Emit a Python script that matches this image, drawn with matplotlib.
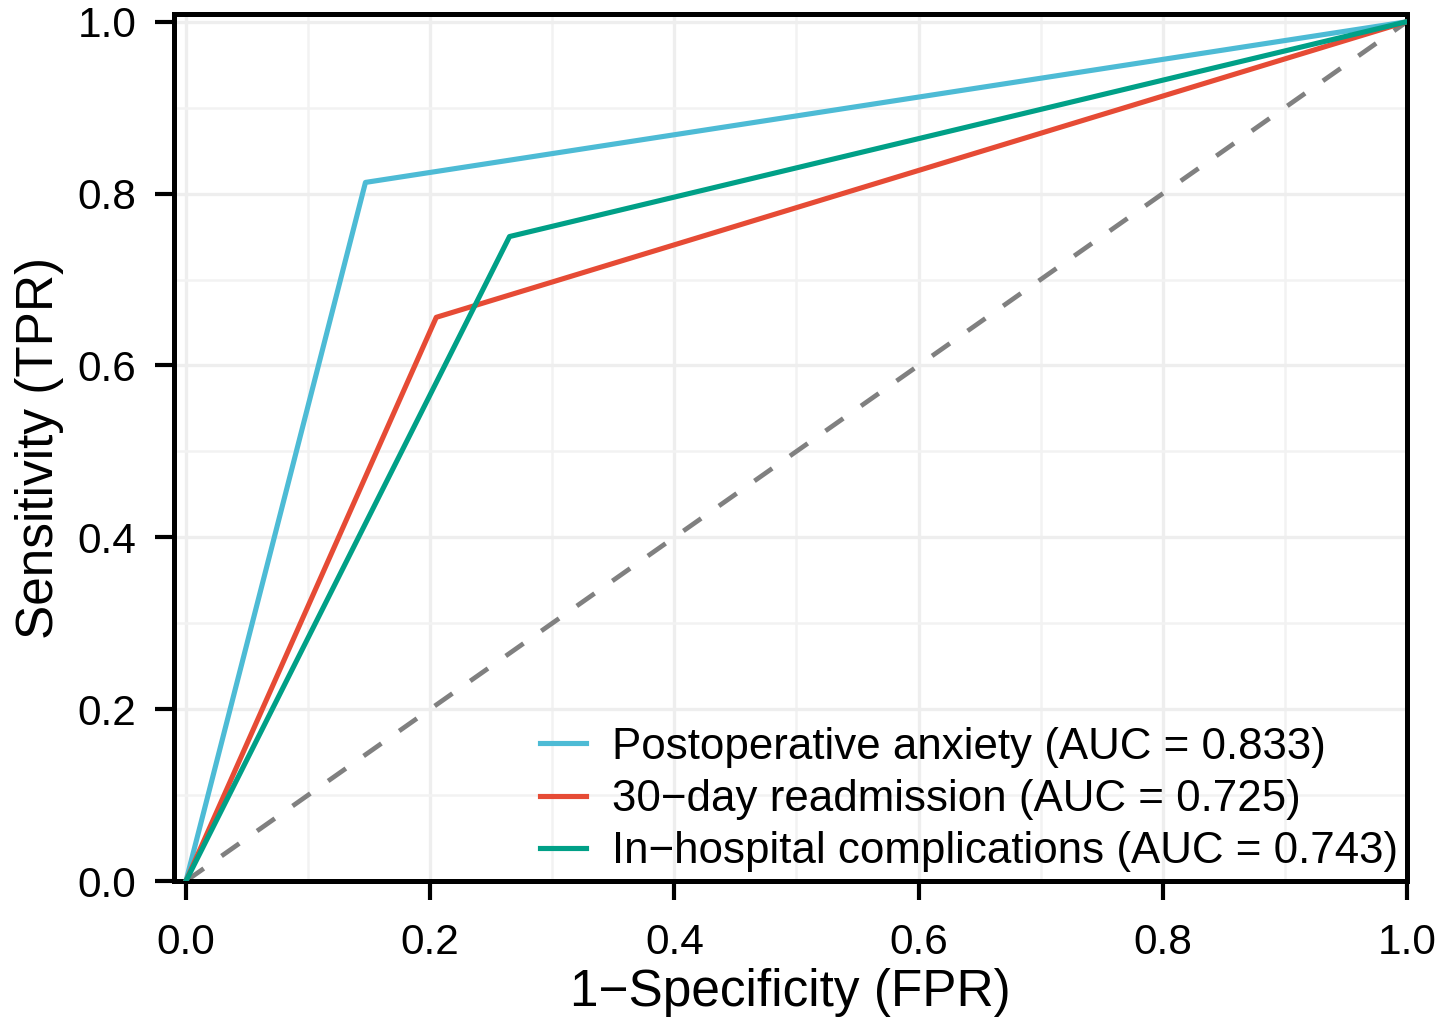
import matplotlib
matplotlib.use('Agg')
import matplotlib.pyplot as plt
from matplotlib.ticker import MultipleLocator, FormatStrFormatter

plt.rcParams['font.family'] = ['Liberation Sans', 'DejaVu Sans']

# ROC points (FPR, TPR)
labels = ['Postoperative anxiety (AUC = 0.833)',
          '30\u2212day readmission (AUC = 0.725)',
          'In\u2212hospital complications (AUC = 0.743)']
fpr_anxiety = [0.0, 0.147, 1.0]
tpr_anxiety = [0.0, 0.813, 1.0]
fpr_readmit = [0.0, 0.205, 1.0]
tpr_readmit = [0.0, 0.656, 1.0]
fpr_complic = [0.0, 0.265, 1.0]
tpr_complic = [0.0, 0.750, 1.0]
colors = ['#4DBBD5', '#E64B35', '#00A087']

fig = plt.figure(figsize=(14.43, 10.36), dpi=100)
ax = fig.add_axes([0.1206, 0.1496, 0.975 - 0.1206, 0.9865 - 0.1496])

# chance line
ax.plot([0, 1], [0, 1], color='#808080', lw=3.4, dashes=(4.6, 4.6), zorder=2)
series = [(fpr_anxiety, tpr_anxiety), (fpr_readmit, tpr_readmit), (fpr_complic, tpr_complic)]
for (x, y), c, lab in zip(series, colors, labels):
    ax.plot(x, y, color=c, lw=3.7, label=lab, zorder=3)

ax.set_xlim(-0.0098, 1.0)
ax.set_ylim(0.0, 1.009)
ax.xaxis.set_major_locator(MultipleLocator(0.2))
ax.yaxis.set_major_locator(MultipleLocator(0.2))
ax.xaxis.set_minor_locator(MultipleLocator(0.1))
ax.yaxis.set_minor_locator(MultipleLocator(0.1))
ax.xaxis.set_major_formatter(FormatStrFormatter('%.1f'))
ax.yaxis.set_major_formatter(FormatStrFormatter('%.1f'))

ax.grid(which='major', color='#EEEEEE', lw=2.4, zorder=0)
ax.grid(which='minor', color='#F2F2F2', lw=1.8, zorder=0)
ax.set_axisbelow(True)

for s in ax.spines.values():
    s.set_linewidth(3.6)
    s.set_color('black')

ax.tick_params(which='major', direction='out', length=14, width=3, color='black',
               labelsize=30.5, labelcolor='black')
ax.tick_params(axis='x', which='major', pad=16)
ax.tick_params(axis='y', which='major', pad=13)
ax.tick_params(which='minor', length=0)

ax.set_xlabel('1\u2212Specificity (FPR)', fontsize=37, labelpad=4)
ax.set_ylabel('Sensitivity (TPR)', fontsize=37, labelpad=10)

leg = ax.legend(loc='lower right', frameon=False, fontsize=31.6, handlelength=1.05,
                handletextpad=0.6, labelspacing=0.26, borderaxespad=0.0,
                borderpad=0.0, bbox_to_anchor=(0.993, 0.01))

fig.savefig('out.png', dpi=100, facecolor='white')
